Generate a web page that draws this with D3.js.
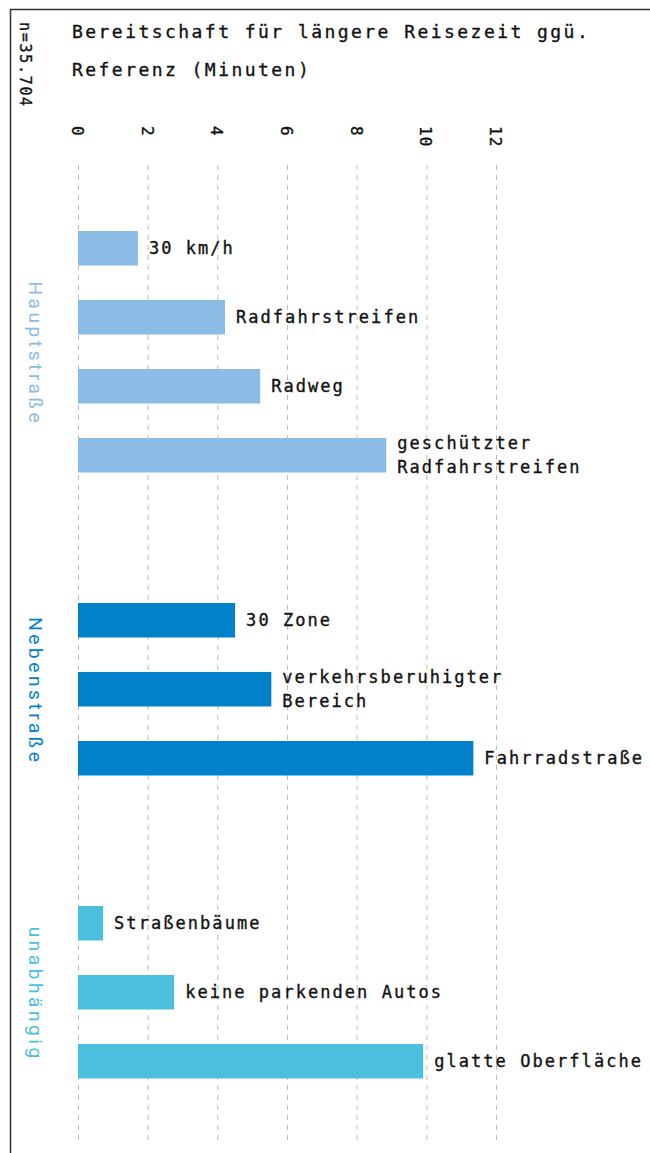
<!DOCTYPE html>
<html>
<head>
<meta charset="utf-8">
<script src="https://cdn.jsdelivr.net/npm/d3@7"></script>
<style>
  body { margin: 0; background: #fff; }
  svg { display: block; }
  .mono { font-family: "DejaVu Sans Mono", "Liberation Mono", monospace; stroke: #111; stroke-width: 0.35px; }
</style>
</head>
<body>
<div id="chart"></div>
<script>
(function() {
  const width = 650;
  const height = 1153;

  // data
  const groups = ["Hauptstraße", "Nebenstraße", "unabhängig"];
  const groupColors = ["#8bbce6", "#0081c9", "#4bbfde"];
  const categories = [
    ["30 km/h"], ["Radfahrstreifen"], ["Radweg"], ["geschützter", "Radfahrstreifen"],
    ["30 Zone"], ["verkehrsberuhigter", "Bereich"], ["Fahrradstraße"],
    ["Straßenbäume"], ["keine parkenden Autos"], ["glatte Oberfläche"]
  ];
  const categoryGroup = [0, 0, 0, 0, 1, 1, 1, 2, 2, 2];
  const values = [1.72, 4.22, 5.23, 8.85, 4.51, 5.55, 11.35, 0.72, 2.76, 9.91];
  const ticks = [0, 2, 4, 6, 8, 10, 12];

  const svg = d3.select("#chart")
    .append("svg")
    .attr("width", width)
    .attr("height", height);

  // frame lines top + left
  svg.append("line")
    .attr("x1", 10).attr("x2", width).attr("y1", 9.5).attr("y2", 9.5)
    .style("stroke", "#333").style("stroke-width", 1.5);
  svg.append("line")
    .attr("x1", 10.5).attr("x2", 10.5).attr("y1", 9).attr("y2", height)
    .style("stroke", "#333").style("stroke-width", 1.5);

  // title
  const title = svg.append("text")
    .attr("class", "mono")
    .style("font-size", "18px")
    .style("letter-spacing", "2.45px")
    .style("fill", "#111");
  title.append("tspan").attr("x", 72).attr("y", 38).text("Bereitschaft für längere Reisezeit ggü.");
  title.append("tspan").attr("x", 72).attr("y", 76).text("Referenz (Minuten)");

  // sample size
  svg.append("text")
    .attr("class", "mono")
    .attr("transform", "translate(20,22) rotate(90)")
    .style("font-size", "15px")
    .style("letter-spacing", "1.7px")
    .style("fill", "#111")
    .text("n=35.704");

  const x = d3.scaleLinear()
    .domain([0, 12])
    .range([78, 496]);

  // one band per bar, extra gap between groups
  const keys = categories.map((d, i) => i);
  const y = d3.scaleBand()
    .domain(keys)
    .range([231, 231 + 69 * (keys.length - 0.5)])
    .paddingInner(0.5)
    .paddingOuter(0);
  const groupGap = 96;
  const barY = (i) => y(i) + categoryGroup[i] * groupGap;
  const barH = y.bandwidth();

  // gridlines
  svg.append("g")
    .selectAll("line")
    .data(ticks)
    .join("line")
    .attr("x1", d => x(d) + 0.5)
    .attr("x2", d => x(d) + 0.5)
    .attr("y1", 165)
    .attr("y2", 1143)
    .style("stroke", "#bdbdbd")
    .style("stroke-width", 1)
    .style("stroke-dasharray", "5,5");

  // tick labels, rotated
  svg.append("g")
    .selectAll("text")
    .data(ticks)
    .join("text")
    .attr("class", "mono")
    .attr("transform", d => `translate(${x(d) - 6},126) rotate(90)`)
    .style("font-size", "16px")
    .style("letter-spacing", "1.2px")
    .style("fill", "#111")
    .text(d => d);

  // bars
  svg.append("g")
    .selectAll("rect")
    .data(values)
    .join("rect")
    .attr("x", x(0))
    .attr("y", (d, i) => barY(i))
    .attr("width", d => x(d) - x(0))
    .attr("height", barH)
    .style("fill", (d, i) => groupColors[categoryGroup[i]]);

  // bar labels
  const labels = svg.append("g")
    .selectAll("text")
    .data(categories)
    .join("text")
    .attr("class", "mono")
    .style("font-size", "17px")
    .style("letter-spacing", "2.05px")
    .style("fill", "#111");
  labels.each(function(lines, i) {
    const t = d3.select(this);
    const cx = x(values[i]) + 11;
    const cy = barY(i) + barH / 2 + 6 - (lines.length - 1) * 12;
    lines.forEach((s, j) => {
      t.append("tspan").attr("x", cx).attr("y", cy + j * 24).text(s);
    });
  });

  // group labels
  svg.append("g")
    .selectAll("text")
    .data(groups)
    .join("text")
    .attr("transform", (d, g) => {
      const idx = categoryGroup.map((c, i) => c === g ? i : -1).filter(i => i >= 0);
      const top = barY(idx[0]);
      const bottom = barY(idx[idx.length - 1]) + barH;
      return `translate(29,${(top + bottom) / 2 + 2}) rotate(90)`;
    })
    .attr("text-anchor", "middle")
    .style("font-family", "Roboto, 'Noto Sans', sans-serif")
    .style("font-weight", 400)
    .style("font-size", "19px")
    .style("letter-spacing", "3.6px")
    .style("fill", (d, g) => groupColors[g])
    .text(d => d);
})();
</script>
</body>
</html>
